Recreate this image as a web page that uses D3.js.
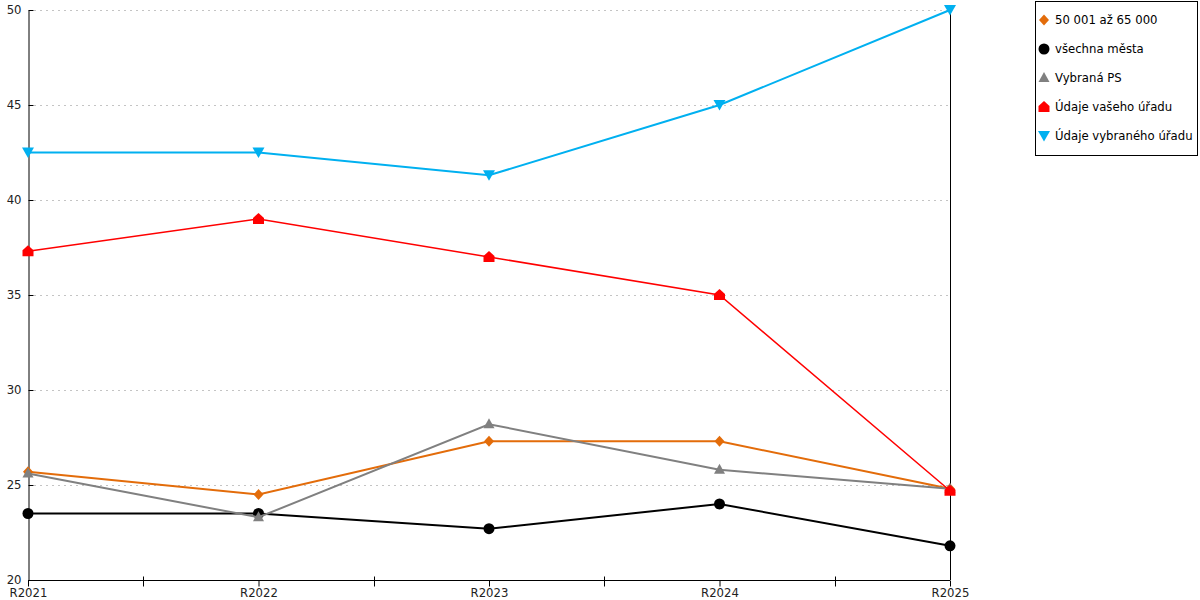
<!DOCTYPE html>
<html>
<head>
<meta charset="utf-8">
<script src="https://cdn.jsdelivr.net/npm/d3@7"></script>
<style>
  body { margin: 0; background: #fff; }
  svg { font-family: "DejaVu Sans", sans-serif; font-size: 11.7px; }
</style>
</head>
<body>
<svg width="1200" height="600"></svg>
<script>
// rocniky a hodnoty rad
var roky = ['R2021', 'R2022', 'R2023', 'R2024', 'R2025'];
var yTicks = [20, 25, 30, 35, 40, 45, 50];

var velikost = [25.7, 24.5, 27.3, 27.3, 24.8];
var vsechnaMesta = [23.5, 23.5, 22.7, 24.0, 21.8];
var vybranaPS = [25.6, 23.3, 28.2, 25.8, 24.8];
var vasUrad = [37.3, 39.0, 37.0, 35.0, 24.7];
var vybranyUrad = [42.5, 42.5, 41.3, 45.0, 50.0];

var rady = [
  { nazev: '50 001 až 65 000', hodnoty: velikost, barva: '#e36c0a', sirka: 2, znacka: 'diamond' },
  { nazev: 'všechna města', hodnoty: vsechnaMesta, barva: '#000000', sirka: 2, znacka: 'circle' },
  { nazev: 'Vybraná PS', hodnoty: vybranaPS, barva: '#808080', sirka: 2, znacka: 'triangle' },
  { nazev: 'Údaje vašeho úřadu', hodnoty: vasUrad, barva: '#ff0000', sirka: 1.5, znacka: 'house' },
  { nazev: 'Údaje vybraného úřadu', hodnoty: vybranyUrad, barva: '#00b0f0', sirka: 2, znacka: 'down' }
];

var svg = d3.select('svg');
var mLeft = 28, mRight = 950, mTop = 10, mBottom = 580;

var x = d3.scalePoint().domain(roky).range([mLeft, mRight]);
var y = d3.scaleLinear().domain([20, 50]).range([mBottom, mTop]);

function znacka(typ) {
  switch (typ) {
    case 'diamond': return 'M0,-5.5L5,0L0,5.5L-5,0Z';
    case 'circle': return d3.symbol(d3.symbolCircle, 95)();
    case 'triangle': return 'M0,-6L5.5,4L-5.5,4Z';
    case 'house': return 'M0,-6L5.5,-1L5.5,5L-5.5,5L-5.5,-1Z';
    case 'down': return 'M-6,-5L6,-5L0,5.5Z';
  }
}

// mrizka
svg.append('g')
  .selectAll('line')
  .data(yTicks.filter(function (d) { return d > 20; }))
  .enter()
  .append('line')
  .attr('x1', mLeft + 6)
  .attr('x2', mRight)
  .attr('y1', function (d) { return y(d) + 0.5; })
  .attr('y2', function (d) { return y(d) + 0.5; })
  .attr('stroke', '#c4c4c4')
  .attr('stroke-dasharray', '2,4');

// osa y
var osaY = svg.append('g')
  .attr('transform', 'translate(' + (mLeft + 0.5) + ',0)')
  .call(d3.axisLeft(y).tickValues(yTicks).tickSize(5).tickSizeOuter(0));
osaY.select('.domain').attr('stroke', '#000');
osaY.selectAll('.tick line').attr('x2', 5);
osaY.selectAll('.tick text')
  .attr('x', -7)
  .attr('font-family', '"DejaVu Sans", sans-serif')
  .attr('font-size', 11.7)
  .attr('fill', '#222');

// prava cara
svg.append('line')
  .attr('x1', mRight + 0.5).attr('x2', mRight + 0.5)
  .attr('y1', mTop).attr('y2', mBottom)
  .attr('stroke', '#000');

// osa x
var osaX = svg.append('g')
  .attr('transform', 'translate(0,' + (mBottom + 0.5) + ')')
  .call(d3.axisBottom(x).tickSize(6).tickSizeOuter(0));
osaX.select('.domain').attr('d', 'M' + mLeft + ',0H' + mRight);
osaX.selectAll('.tick text')
  .attr('y', 8)
  .attr('font-family', '"DejaVu Sans", sans-serif')
  .attr('font-size', 11.7)
  .attr('fill', '#222');

// mezilehle znacky na ose x
var stred = roky.slice(1).map(function (r, i) {
  return (x(roky[i]) + x(r)) / 2;
});
osaX.append('g')
  .selectAll('line')
  .data(stred)
  .enter()
  .append('line')
  .attr('x1', function (d) { return Math.round(d) + 0.5; })
  .attr('x2', function (d) { return Math.round(d) + 0.5; })
  .attr('y1', -4)
  .attr('y2', 6)
  .attr('stroke', '#000');

// cary
var cara = d3.line()
  .x(function (d, i) { return x(roky[i]); })
  .y(function (d) { return y(d); });

var skupiny = svg.append('g')
  .selectAll('g')
  .data(rady)
  .enter()
  .append('g');

skupiny.append('path')
  .attr('d', function (d) { return cara(d.hodnoty); })
  .attr('fill', 'none')
  .attr('stroke', function (d) { return d.barva; })
  .attr('stroke-width', function (d) { return d.sirka; });

skupiny.each(function (r) {
  d3.select(this)
    .selectAll('path.bod')
    .data(r.hodnoty)
    .enter()
    .append('path')
    .attr('class', 'bod')
    .attr('d', znacka(r.znacka))
    .attr('transform', function (d, i) {
      return 'translate(' + x(roky[i]) + ',' + y(d) + ')';
    })
    .attr('fill', r.barva);
});

// legenda
var legenda = svg.append('g').attr('transform', 'translate(1035,1)');
legenda.append('rect')
  .attr('x', 0.5)
  .attr('y', 0.5)
  .attr('width', 162)
  .attr('height', 154)
  .attr('fill', '#fff')
  .attr('stroke', '#000');

var polozky = legenda.selectAll('g.polozka')
  .data(rady)
  .enter()
  .append('g')
  .attr('class', 'polozka')
  .attr('transform', function (d, i) { return 'translate(9,' + (19 + i * 29) + ')'; });

polozky.append('path')
  .attr('d', function (d) { return znacka(d.znacka); })
  .attr('fill', function (d) { return d.barva; });

polozky.append('text')
  .attr('x', 11)
  .attr('dy', '0.35em')
  .attr('fill', '#000')
  .text(function (d) { return d.nazev; });
</script>
</body>
</html>
